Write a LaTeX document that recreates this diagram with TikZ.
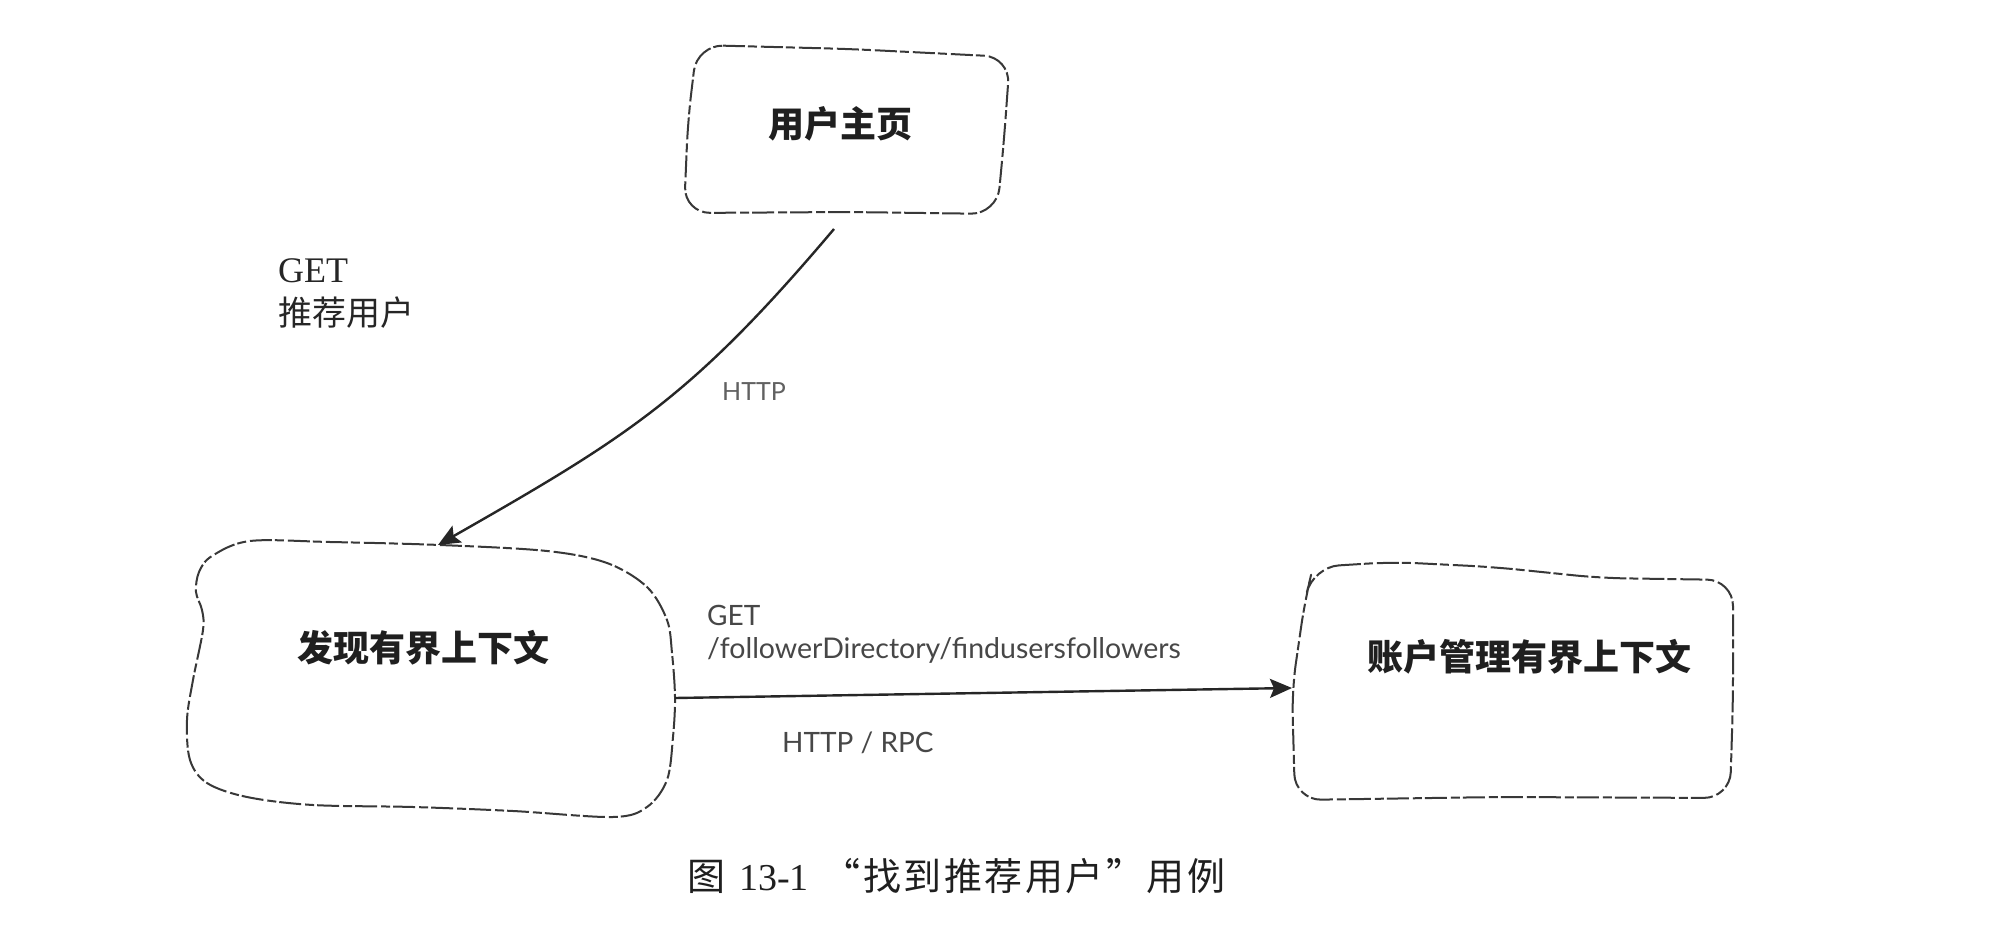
\documentclass[tikz,border=0pt]{standalone}
\usepackage{fontspec}
\setmainfont{Liberation Serif}
\newfontfamily\cjk{Noto Sans CJK SC}
\newfontfamily\cjkcap{Noto Sans CJK SC}[LetterSpace=6.5]
\newfontfamily\lato{Lato}
\usetikzlibrary{arrows.meta}
\begin{document}
\begin{tikzpicture}[x=1pt,y=-1pt,
  sketch/.style={line width=2pt, draw=black!78, dash pattern=on 22pt off 3pt on 9pt off 4pt, line join=round},
  conn/.style={line width=2.4pt, draw=black!85, -{Stealth[length=22pt,width=19pt,inset=4pt]}},
  boxarea/.style={inner sep=0pt, outer sep=0pt, draw=none},
  boxtext/.style={font=\fontsize{36}{40}\selectfont\cjk\bfseries, text=black!88, inner sep=0pt},
  thinlabel/.style={text=black!72, inner sep=0pt, anchor=base west},
]
\useasboundingbox (0,0) rectangle (1992,936);
\fill[white] (0,0) rectangle (1992,936);

% box areas
\node[boxarea, minimum width=327pt, minimum height=170pt] (homebox) at (846.5,130) {};
\node[boxarea, minimum width=488pt, minimum height=277pt] (discbox) at (431,678.5) {};
\node[boxarea, minimum width=441pt, minimum height=238pt] (acctbox) at (1512.5,681) {};

% outlines
\draw[sketch, rounded corners=26pt] (697,45) -- (850,49) -- (1010,57) -- (1004,140) -- (997,214) -- (850,212) -- (684,213) -- (688,120) -- cycle;
\draw[sketch] plot[smooth cycle, tension=0.55] coordinates {
 (212,556) (250,541) (330,542) (440,545) (547,551) (607,563) (647,587) (667,620)
 (672,653) (675,697) (673,737) (667,780) (647,807) (613,817) (513,811) (413,807)
 (313,805) (247,797) (207,783) (190,760) (187,720) (193,680) (203,630) (202,610)
 (196,592) (199,572)};
\draw[sketch, rounded corners=26pt] (1313,567) -- (1393,562) -- (1493,567) -- (1600,578) -- (1733,580) -- (1733,700) -- (1730,798) -- (1500,797) -- (1295,800) -- (1292,690) -- (1305,600) -- cycle;

% texts
\node[boxtext] (home) at (840,124) {用户主页};
\node[boxtext] (disc) at (423,648) {发现有界上下文};
\node[boxtext] (acct) at (1529,657) {账户管理有界上下文};

\node[anchor=base west, inner sep=0pt, font=\fontsize{36}{40}\selectfont, text=black!85] (getlbl) at (278,283) {GET};
\node[anchor=base west, inner sep=0pt, font=\fontsize{34}{40}\selectfont\cjk, text=black!85] (reclbl) at (278,325) {推荐用户};

\node[thinlabel, font=\fontsize{25}{28}\selectfont\lato, text=black!62] (http1) at (722,400) {HTTP};
\node[thinlabel, font=\fontsize{28}{32}\selectfont\lato] (get2) at (707,625) {GET};
\node[thinlabel, font=\fontsize{28.5}{32}\selectfont\lato] (path) at (707,658) {/followerDirectory/findusersfollowers};
\node[thinlabel, font=\fontsize{28}{32}\selectfont\lato] (rpc) at (782,752) {HTTP / RPC};

% connectors
\draw[conn] ([shift={(-12.5,14)}]homebox.south) .. controls (692,397) and (629,436) .. ([shift={(7,5)}]discbox.north);
\draw[conn] ([shift={(0,19.5)}]discbox.east) -- ([shift={(0,7)}]acctbox.west);

% caption
\node[anchor=base west, inner sep=0pt, font=\fontsize{38}{42}\selectfont, text=black!88] (cap) at (687,890) {{\cjk 图}\hspace{14pt}13-1\hspace{14pt}{\cjkcap “找到推荐用户”用例}};
\end{tikzpicture}
\end{document}
